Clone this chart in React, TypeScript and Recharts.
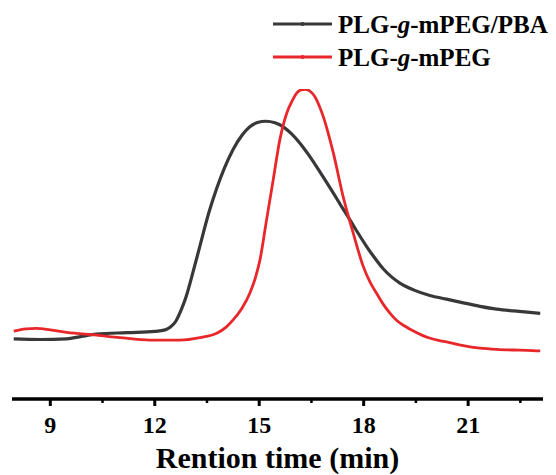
import { Legend, Line, LineChart, XAxis, YAxis } from "recharts";

// retention time (min) vs detector signal (signal in % of red peak)
const pbaTime = [7.95, 8.7, 9.47, 9.9, 10.33, 11.2, 12.0, 12.3, 12.45, 12.6, 12.75, 12.9, 13.1, 13.3, 13.55, 13.78, 14.0, 14.25, 14.5, 14.73, 14.95, 15.19, 15.45, 15.69, 15.93, 16.17, 16.41, 16.65, 16.89, 17.13, 17.37, 17.61, 17.85, 18.09, 18.33, 18.56, 18.8, 19.04, 19.43, 19.9, 20.38, 20.86, 21.34, 21.82, 22.3, 22.7, 23.07];
const pbaSignal = [19.4, 19.2, 19.4, 20.2, 20.9, 21.4, 21.8, 22.3, 23.2, 25.0, 28.5, 33.0, 41.0, 49.5, 60.0, 68.0, 74.5, 80.5, 85.0, 87.8, 89.2, 89.6, 89.1, 87.8, 85.5, 82.5, 78.9, 74.9, 70.7, 66.4, 62.0, 57.7, 53.3, 49.1, 45.3, 42.0, 39.4, 37.4, 35.2, 33.4, 32.2, 31.0, 29.9, 29.0, 28.4, 28.0, 27.6];

const pegTime = [7.95, 8.3, 8.6, 9.0, 9.47, 10.33, 11.0, 11.86, 12.72, 13.3, 13.78, 14.05, 14.25, 14.5, 14.73, 14.9, 15.02, 15.21, 15.4, 15.59, 15.79, 15.93, 16.07, 16.2, 16.33, 16.47, 16.6, 16.72, 16.84, 16.98, 17.13, 17.41, 17.7, 17.99, 18.18, 18.37, 18.56, 18.76, 18.95, 19.2, 19.43, 19.67, 19.91, 20.15, 20.38, 20.86, 21.34, 21.82, 22.3, 22.7, 23.07];
const pegSignal = [21.9, 22.6, 22.8, 22.3, 21.5, 20.6, 19.8, 19.0, 19.0, 19.8, 21.2, 23.2, 25.5, 29.2, 34.1, 39.5, 44.8, 57.7, 70.6, 83.5, 92.2, 95.8, 98.6, 99.7, 99.9, 99.2, 97.5, 94.7, 91.1, 85.8, 79.3, 65.3, 53.5, 42.7, 37.8, 34.1, 30.6, 27.6, 25.3, 23.4, 21.9, 20.6, 19.6, 18.9, 18.4, 17.2, 16.4, 16.0, 15.8, 15.7, 15.5];

const xTicks = [9, 10.5, 12, 13.5, 15, 16.5, 18, 19.5, 21, 22.5];

const pbaData = pbaTime.map((t, i) => ({ t, v: pbaSignal[i] }));
const pegData = pegTime.map((t, i) => ({ t, v: pegSignal[i] }));

const FONT = "'Liberation Serif', 'Times New Roman', serif";
const BLACK = "#383838";
const RED = "#e8272b";

function AxisTick(props: any) {
  const { x, y, payload } = props;
  const major = Number.isInteger(payload.value);
  return (
    <g>
      <line x1={x} x2={x} y1={y} y2={y + (major ? 7 : 4)} stroke="#000" strokeWidth={major ? 3 : 2.5} />
      {major && (
        <text x={x} y={y + 34} textAnchor="middle" fontFamily={FONT} fontWeight="bold" fontSize={24} fill="#000">
          {payload.value}
        </text>
      )}
    </g>
  );
}

function LegendBox() {
  const rows = [
    { name: "PLG-", g: "g", rest: "-mPEG/PBA", color: BLACK, y: 16 },
    { name: "PLG-", g: "g", rest: "-mPEG", color: RED, y: 49 },
  ];
  return (
    <svg width={548} height={80}>
      {rows.map((r) => (
        <g key={r.rest}>
          <line x1={265} x2={324} y1={r.y} y2={r.y} stroke={r.color} strokeWidth={3} />
          <circle cx={294.5} cy={r.y} r={2} fill={r.color} />
          <text x={330} y={r.y + 9} fontFamily={FONT} fontWeight="bold" fontSize={25} fill="#000">
            {r.name}
            <tspan fontStyle="italic">{r.g}</tspan>
            {r.rest}
          </text>
        </g>
      ))}
    </svg>
  );
}

export default function App() {
  return (
    <LineChart width={548} height={467} margin={{ top: 81, right: 13, bottom: 0, left: 4 }}>
      <XAxis
        type="number"
        dataKey="t"
        domain={[7.9, 23.15]}
        allowDataOverflow
        ticks={xTicks}
        interval={0}
        height={76}
        tickSize={0}
        tickMargin={0}
        tickLine={false}
        tick={<AxisTick />}
        axisLine={{ stroke: "#000", strokeWidth: 3.5 }}
        label={{
          value: "Rention time (min)",
          position: "insideBottom",
          offset: 7,
          fontFamily: FONT,
          fontWeight: "bold",
          fontSize: 30,
          fill: "#000",
        }}
      />
      <YAxis hide type="number" domain={[0, 100]} allowDataOverflow />
      <Legend
        layout="horizontal"
        verticalAlign="middle"
        align="center"
        wrapperStyle={{ position: "absolute", left: 0, top: 0, width: 548, height: 80 }}
        content={() => <LegendBox />}
      />
      <Line data={pbaData} dataKey="v" type="monotone" stroke={BLACK} strokeWidth={3.2} dot={false} isAnimationActive={false} />
      <Line data={pegData} dataKey="v" type="monotone" stroke={RED} strokeWidth={2.8} dot={false} isAnimationActive={false} />
    </LineChart>
  );
}
